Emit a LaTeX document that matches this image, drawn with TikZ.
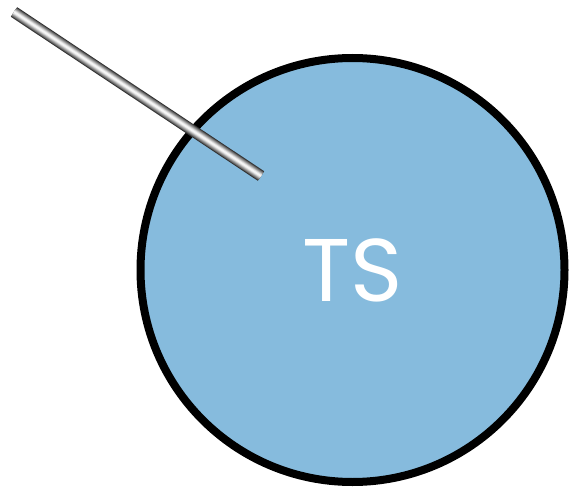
\documentclass[tikz,border=0pt]{standalone}
\usepackage{fontspec}
\newfontfamily\tsfont{Poppins}
\definecolor{tsblue}{RGB}{134,187,221}
\tikzset{
  tscircle/.style={circle, draw=black, line width=8pt, fill=tsblue, minimum size=424pt, inner sep=0pt,
    text=white, font=\tsfont\fontsize{89}{89}\selectfont},
  rodlayer/.style={line cap=butt, line width=#1}
}
\begin{document}
\begin{tikzpicture}[x=1pt,y=1pt]
\useasboundingbox (0,0) rectangle (570,488);
\node[tscircle] (ts) at (352.5,218) {TS};
\coordinate (rodstart) at (14,476);
\coordinate (rodend) at (261,312);
\draw[rodlayer=11.5pt, color=black!80] (rodstart) -- (rodend);
\draw[rodlayer=9.5pt, color=black!62] (rodstart) -- (rodend);
\draw[rodlayer=8pt, color=black!50] (rodstart) -- (rodend);
\draw[rodlayer=6.5pt, color=black!38] (rodstart) -- (rodend);
\draw[rodlayer=5pt, color=black!25] (rodstart) -- (rodend);
\draw[rodlayer=3.5pt, color=black!13] (rodstart) -- (rodend);
\draw[rodlayer=1.8pt, color=black!4] (rodstart) -- (rodend);
\end{tikzpicture}
\end{document}
